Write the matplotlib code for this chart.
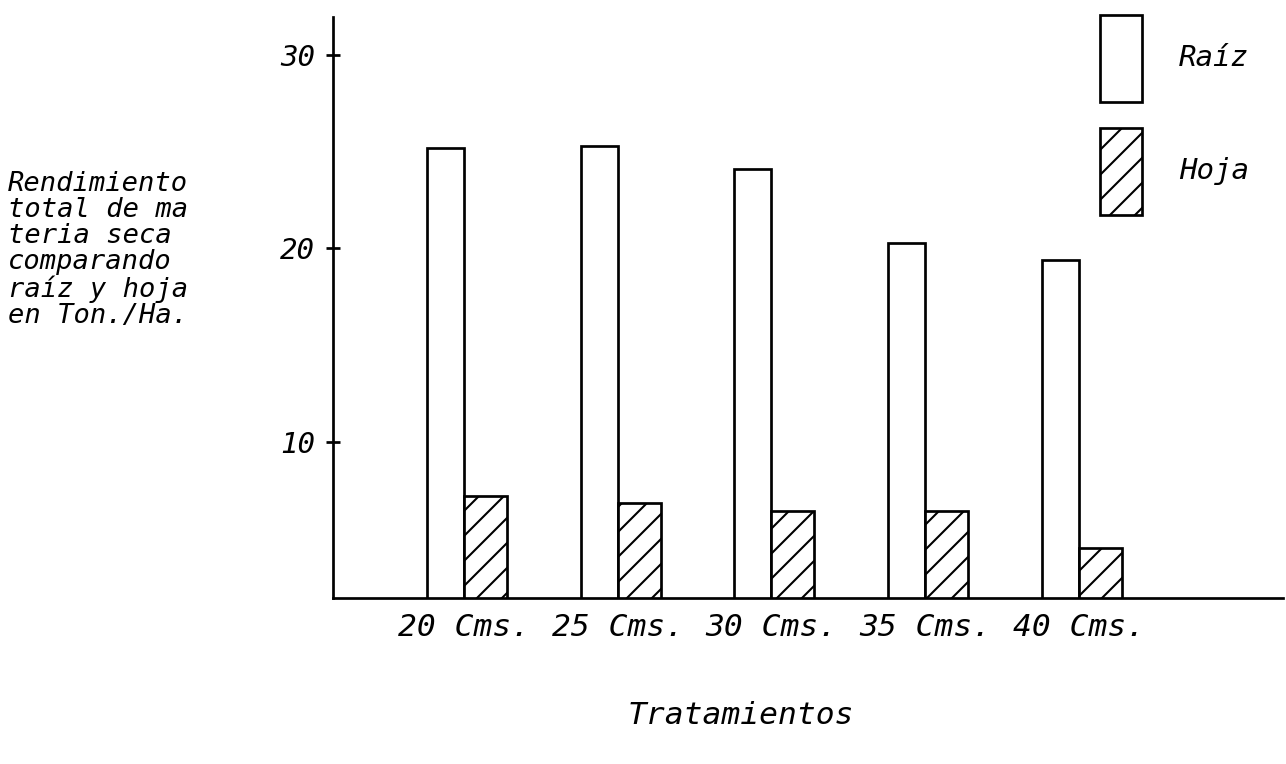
import matplotlib.pyplot as plt
import numpy as np

# Rendimiento total de materia seca (Ton./Ha.)
tratamientos = ['20 Cms.', '25 Cms.', '30 Cms.', '35 Cms.', '40 Cms.']
raiz = [25.2, 25.3, 24.1, 20.3, 19.4]
hoja = [7.2, 6.8, 6.4, 6.4, 4.5]

plt.rcParams['font.family'] = 'DejaVu Sans Mono'
plt.rcParams['font.style'] = 'oblique'
plt.rcParams['hatch.linewidth'] = 1.0

fig = plt.figure(figsize=(1286 / 150, 764 / 150), dpi=150)
ax = fig.add_axes([0.2589, 0.2173, 0.7388, 0.7605])

x = np.arange(len(tratamientos))
lw = 1.3
b1 = ax.bar(x, raiz, width=-0.24, align='edge', facecolor='white',
            edgecolor='black', linewidth=lw, label='Raíz')
b2 = ax.bar(x, hoja, width=0.28, align='edge', facecolor='white',
            edgecolor='black', linewidth=lw, hatch='//', label='Hoja')

ax.set_xlim(-0.852, 5.329)
ax.set_ylim(1.91, 31.97)

for s in ['top', 'right']:
    ax.spines[s].set_visible(False)
for s in ['left', 'bottom']:
    ax.spines[s].set_linewidth(lw)

ax.set_yticks([10, 20, 30])
ax.tick_params(axis='y', direction='inout', length=7, width=lw,
               labelsize=14, pad=5)
ax.set_xticks(x, tratamientos)
ax.tick_params(axis='x', length=0, labelsize=15, pad=7)

fig.text(8 / 1286, 1 - 250 / 764,
         'Rendimiento\ntotal de ma\nteria seca\ncomparando\nraíz y hoja\nen Ton./Ha.',
         ha='left', va='center', fontsize=13, linespacing=1.0)
fig.text(741 / 1286, 1 - 715 / 764, 'Tratamientos', ha='center', va='center',
         fontsize=15)

fs = 14
ax.legend(handles=[b1, b2], loc='upper left',
          bbox_to_anchor=(1100 / 1286, 1 - 15 / 764),
          bbox_transform=fig.transFigure, frameon=False, fontsize=fs,
          handlelength=1.44, handleheight=4.21, labelspacing=0.89,
          handletextpad=1.27, borderpad=0, borderaxespad=0)

fig.savefig('out.png', dpi=150)
